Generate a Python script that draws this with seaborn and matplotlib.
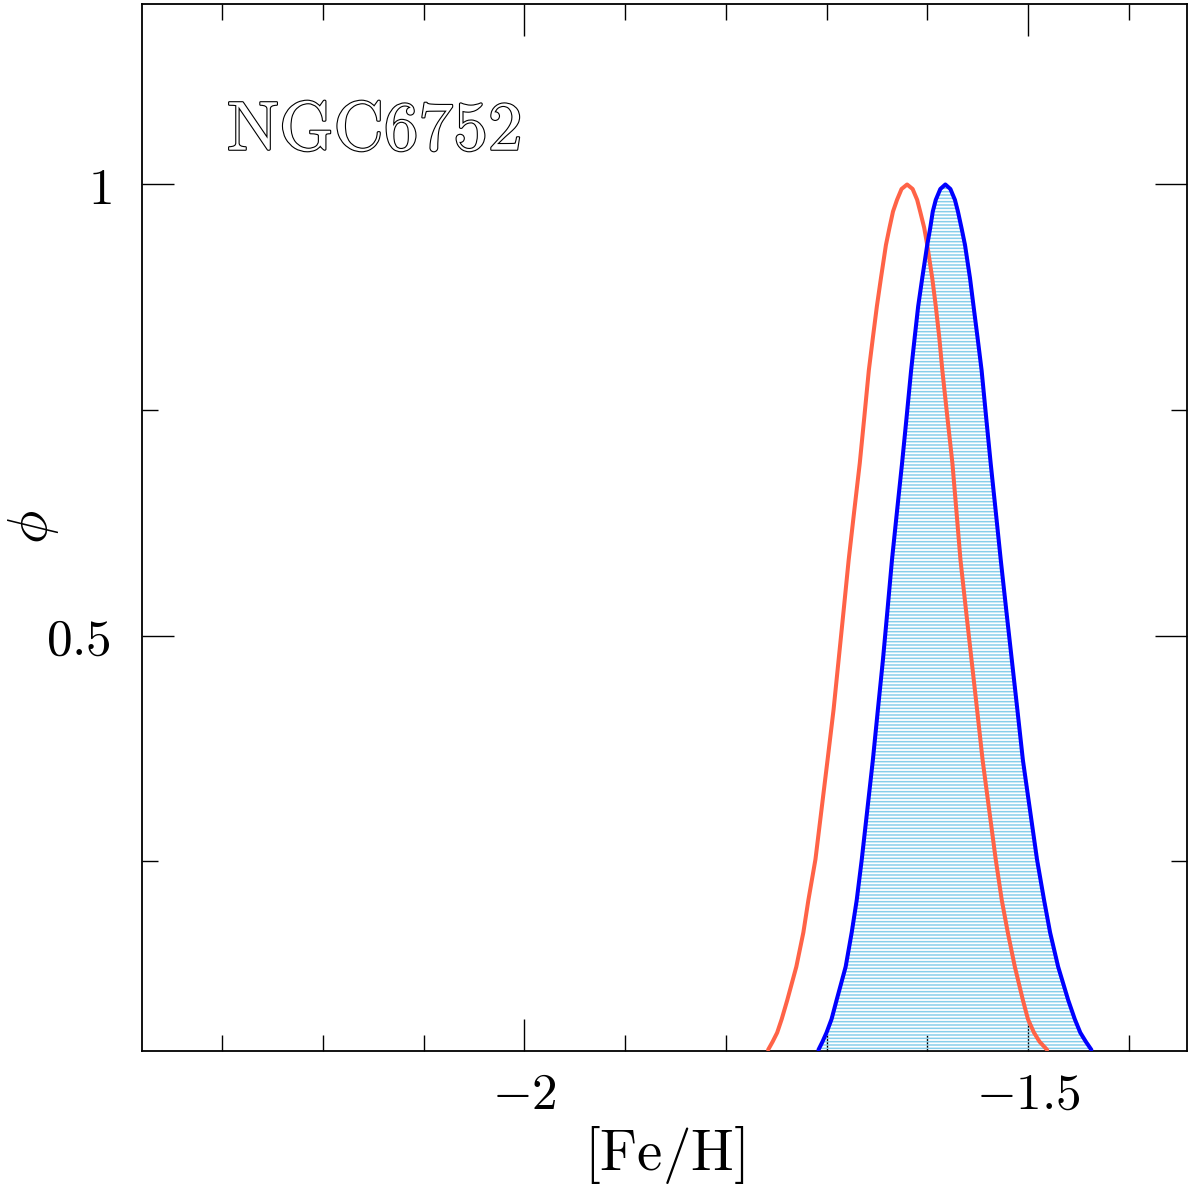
import numpy as np
import pandas as pd
import matplotlib
matplotlib.use("Agg")
import matplotlib.pyplot as plt
import matplotlib.patheffects as pe
from matplotlib.ticker import FixedLocator, MultipleLocator, FixedFormatter
import seaborn as sns

# ---------------- data ----------------
# blue curve (hatched): left foot -> peak -> right foot
blue_feh = [-1.708, -1.704, -1.700, -1.695, -1.690, -1.681, -1.675, -1.670,
            -1.665, -1.6595, -1.654, -1.649, -1.644, -1.6395, -1.635, -1.630,
            -1.625, -1.6205, -1.616, -1.6125, -1.609, -1.605, -1.600, -1.597,
            -1.5945, -1.5915, -1.587,
            -1.582,
            -1.577, -1.5725, -1.5695, -1.566, -1.5625, -1.5575, -1.554, -1.550,
            -1.546, -1.5415, -1.537, -1.532, -1.527, -1.5215, -1.516, -1.5105,
            -1.505, -1.498, -1.491, -1.484, -1.478, -1.470, -1.460, -1.4535,
            -1.448, -1.4425, -1.437]
blue_phi = [0.041, 0.050, 0.060, 0.075, 0.096, 0.133, 0.171, 0.207,
            0.252, 0.307, 0.362, 0.418, 0.473, 0.528, 0.584, 0.638,
            0.691, 0.742, 0.794, 0.830, 0.865, 0.896, 0.933, 0.952,
            0.970, 0.983, 0.995,
            1.000,
            0.995, 0.983, 0.970, 0.952, 0.933, 0.896, 0.865, 0.830,
            0.794, 0.742, 0.691, 0.638, 0.584, 0.528, 0.473, 0.418,
            0.362, 0.307, 0.252, 0.207, 0.171, 0.133, 0.096, 0.075,
            0.060, 0.050, 0.041]

# red curve: left foot -> peak -> right foot
red_feh = [-1.758, -1.7535, -1.749, -1.7445, -1.739, -1.730, -1.723, -1.718,
           -1.711, -1.705, -1.699, -1.693, -1.688, -1.683, -1.678, -1.6725,
           -1.667, -1.6625, -1.658, -1.654, -1.650, -1.646, -1.641, -1.6375,
           -1.634, -1.630, -1.6255,
           -1.620,
           -1.6145, -1.610, -1.607, -1.603, -1.600, -1.595, -1.5915, -1.588,
           -1.585, -1.580, -1.575, -1.571, -1.567, -1.5615, -1.556, -1.5505,
           -1.545, -1.5385, -1.532, -1.526, -1.520, -1.513, -1.505, -1.500,
           -1.494, -1.4885, -1.481]
red_phi = [0.041, 0.050, 0.060, 0.075, 0.096, 0.133, 0.171, 0.207,
           0.252, 0.307, 0.362, 0.418, 0.473, 0.528, 0.584, 0.638,
           0.691, 0.742, 0.794, 0.830, 0.865, 0.896, 0.933, 0.952,
           0.970, 0.983, 0.995,
           1.000,
           0.995, 0.983, 0.970, 0.952, 0.933, 0.896, 0.865, 0.830,
           0.794, 0.742, 0.691, 0.638, 0.584, 0.528, 0.473, 0.418,
           0.362, 0.307, 0.252, 0.207, 0.171, 0.133, 0.096, 0.075,
           0.060, 0.050, 0.041]

x_major = [-2.0, -1.5]
x_major_labels = [r"$-2$", r"$-1.5$"]
y_major = [0.5, 1.0]
y_major_labels = [r"$0.5$", r"$1$"]
title_text = r"$\mathrm{NGC6752}$"
xlabel_text = r"$[\mathrm{Fe/H}]$"
ylabel_text = r"$\phi$"

# ---------------- styling ----------------
sns.set_style("ticks")
plt.rcParams["mathtext.fontset"] = "cm"
plt.rcParams["font.family"] = ["DejaVu Serif", "DejaVu Sans"]
plt.rcParams["hatch.linewidth"] = 1.1
for key in ["text.color", "axes.labelcolor", "xtick.color", "ytick.color",
            "xtick.labelcolor", "ytick.labelcolor"]:
    plt.rcParams[key] = "black"

fig = plt.figure(figsize=(11.88, 11.86), dpi=100)
ax = fig.add_axes([0.1193, 0.1141, 0.8799, 0.8825])

blue_df = pd.DataFrame({"feh": blue_feh, "phi": blue_phi})
red_df = pd.DataFrame({"feh": red_feh, "phi": red_phi})

ymin, ymax = 0.04, 1.2
ax.fill_between(blue_df["feh"], blue_df["phi"], ymin, facecolor="none",
                edgecolor="#87ceeb", hatch="-----", linewidth=0, zorder=3)

sns.lineplot(data=red_df, x="feh", y="phi", color="#ff6347", lw=2.9,
             sort=False, estimator=None, ax=ax, zorder=4)
sns.lineplot(data=blue_df, x="feh", y="phi", color="#0000ff", lw=2.9,
             sort=False, estimator=None, ax=ax, zorder=5)
for ln in ax.get_lines():
    ln.set_solid_joinstyle("round")
    ln.set_solid_capstyle("round")

ax.set_xlim(-2.38, -1.342)
ax.set_ylim(ymin, ymax)

ax.xaxis.set_major_locator(FixedLocator(x_major))
ax.xaxis.set_major_formatter(FixedFormatter(x_major_labels))
ax.xaxis.set_minor_locator(MultipleLocator(0.1))
ax.yaxis.set_major_locator(FixedLocator(y_major))
ax.yaxis.set_major_formatter(FixedFormatter(y_major_labels))
ax.yaxis.set_minor_locator(MultipleLocator(0.25))

ax.tick_params(which="both", direction="in", top=True, right=True,
               width=1.0, color="black")
ax.tick_params(which="major", length=23, labelsize=37, pad=14)
ax.tick_params(which="minor", length=11.5)
ax.tick_params(axis="y", which="major", pad=22)

for sp in ax.spines.values():
    sp.set_linewidth(1.3)
    sp.set_color("black")

ax.set_xlabel(xlabel_text, fontsize=41, va="center")
ax.xaxis.set_label_coords(0.5, -0.100)
ax.set_ylabel(ylabel_text, fontsize=40, va="center", rotation=90)
ax.yaxis.set_label_coords(-0.104, 0.5)

ax.text(0.0816, 0.8605, title_text, transform=ax.transAxes, fontsize=50,
        color="white", va="baseline", ha="left",
        path_effects=[pe.withStroke(linewidth=1.6, foreground="black")])

fig.savefig("out.png", dpi=100)
